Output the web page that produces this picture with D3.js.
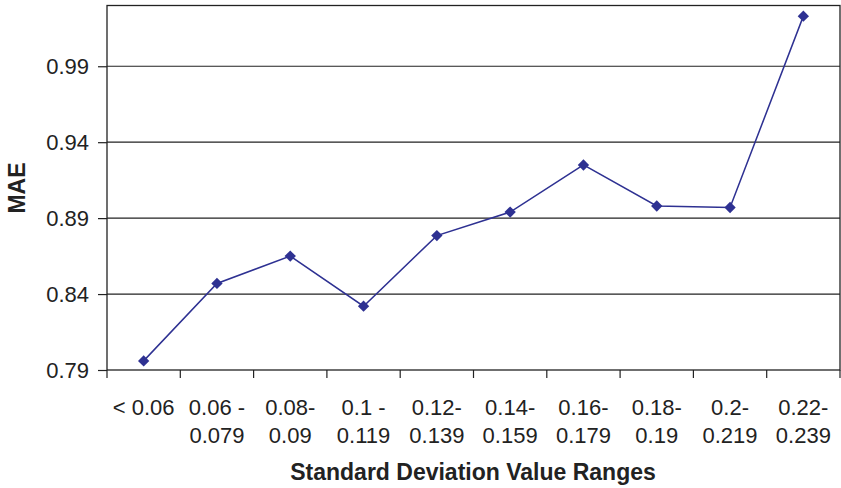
<!DOCTYPE html>
<html><head><meta charset="utf-8">
<script src="https://cdn.jsdelivr.net/npm/d3@7"></script>
<style>body{margin:0;background:#fff}svg{display:block}</style>
</head><body>
<svg id="c" width="841" height="488"></svg>
<script>
const categories = ["< 0.06","0.06 -|0.079","0.08-|0.09","0.1 -|0.119","0.12-|0.139","0.14-|0.159","0.16-|0.179","0.18-|0.19","0.2-|0.219","0.22-|0.239"];
const maeValues = [0.796,0.847,0.865,0.832,0.8785,0.894,0.925,0.898,0.897,1.023];
const yTicks = [0.79,0.84,0.89,0.94,0.99];

const svg = d3.select("#c");
const L=107, R=840, T=5.5, B=370;
const font = "Liberation Sans, Arial, sans-serif";
const x = d3.scaleBand().domain(categories).range([L,R]);
const y = d3.scaleLinear().domain([0.79,1.03]).range([B,T]);

// gridlines
svg.append("g").selectAll("line").data(yTicks.slice(1)).join("line")
  .attr("x1",L).attr("x2",R).attr("y1",d=>y(d)).attr("y2",d=>y(d))
  .attr("stroke","#222").attr("stroke-width",1.2);
// frame
svg.append("rect").attr("x",L).attr("y",T).attr("width",R-L).attr("height",B-T)
  .attr("fill","none").attr("stroke","#222").attr("stroke-width",1.3);

// y axis
const ya = svg.append("g").attr("transform",`translate(${L},0)`)
  .call(d3.axisLeft(y).tickValues(yTicks).tickFormat(d3.format(".2f")).tickSize(9).tickPadding(9));
ya.select(".domain").remove();
ya.selectAll("line").attr("stroke","#222").attr("stroke-width",1.2);
ya.selectAll("text").attr("font-family",font).attr("font-size",22).attr("fill","#222");

// x axis
const xa = svg.append("g").attr("transform",`translate(0,${B})`);
xa.selectAll("line").data(categories.concat(["__end"])).join("line")
  .attr("x1",(d,i)=> i<categories.length? x(d) : R).attr("x2",(d,i)=> i<categories.length? x(d) : R)
  .attr("y1",0).attr("y2",8).attr("stroke","#222").attr("stroke-width",1.2);
const xt = xa.selectAll("text").data(categories).join("text")
  .attr("x",d=>x(d)+x.bandwidth()/2).attr("y",45)
  .attr("text-anchor","middle").attr("font-family",font).attr("font-size",22).attr("fill","#222");
xt.each(function(d){
  const parts=d.split("|");
  const t=d3.select(this);
  parts.forEach((p,i)=>t.append("tspan").attr("x",x(d)+x.bandwidth()/2).attr("dy",i===0?0:28.3).text(p));
});

// titles
svg.append("text").attr("x",473).attr("y",480).attr("text-anchor","middle")
  .attr("font-family",font).attr("font-weight","bold").attr("font-size",23).attr("fill","#222")
  .text("Standard Deviation Value Ranges");
svg.append("text").attr("transform",`translate(25,188) rotate(-90)`).attr("text-anchor","middle")
  .attr("font-family",font).attr("font-weight","bold").attr("font-size",23).attr("fill","#222")
  .text("MAE");

// line
const cx = d=>x(d)+x.bandwidth()/2;
svg.append("path").datum(maeValues)
  .attr("d",d3.line().x((d,i)=>cx(categories[i])).y(d=>y(d)))
  .attr("fill","none").attr("stroke","#2e3192").attr("stroke-width",1.5);
svg.append("g").selectAll("path").data(maeValues).join("path")
  .attr("d",d3.symbol(d3.symbolSquare,64))
  .attr("transform",(d,i)=>`translate(${cx(categories[i])},${y(d)}) rotate(45)`)
  .attr("fill","#2e3192");
</script>
</body></html>
